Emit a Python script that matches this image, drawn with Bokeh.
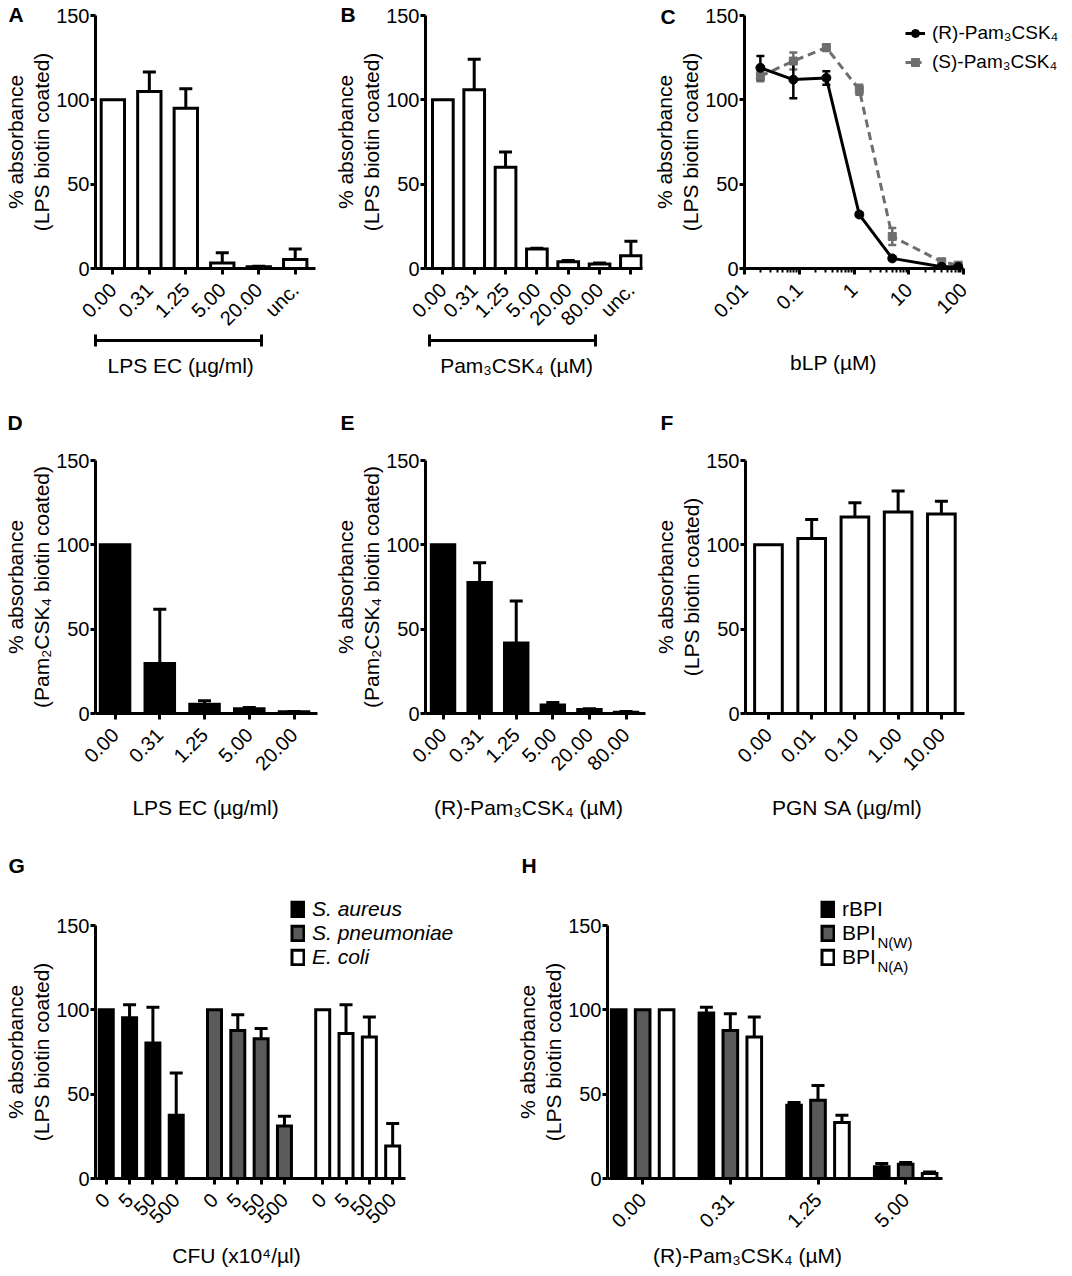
import math
from bokeh.plotting import figure
from bokeh.models import (Range1d, FixedTicker, LinearAxis, Whisker, TeeHead,
                          ColumnDataSource, Label, Legend, LegendItem,
                          CustomJSTickFormatter, GridBox)
from bokeh.layouts import column, row
from bokeh.embed import file_html
from bokeh.resources import INLINE

FONT = "Liberation Sans"
GRAY = "#5a5a5a"
LINE_GRAY = "#6e6e6e"

# ---------------- data ----------------
a_doses = ["0.00", "0.31", "1.25", "5.00", "20.00", "unc."]
a_mean = [100, 105, 95, 3.3, 1.0, 5.3]
a_sem = [0, 11.5, 11.5, 6.0, 0.4, 6.3]

b_doses = ["0.00", "0.31", "1.25", "5.00", "20.00", "80.00", "unc."]
b_mean = [100, 106, 60, 11.5, 4.0, 2.6, 7.5]
b_sem = [0, 18, 9, 0.5, 0.8, 0.6, 8.7]

c_conc = [0.0195, 0.078, 0.3125, 1.25, 5.0, 40.0, 80.0]
c_r_mean = [119, 112, 113, 32, 6, 1, 1]
c_r_sem = [7, 11, 4, 1, 1, 0.5, 0.5]
c_s_mean = [114, 123, 131, 106, 19, 4, 2]
c_s_sem = [3, 5, 2, 3, 5, 1, 1]
c_ticks = [0.01, 0.1, 1, 10, 100]
c_series = ["(R)-Pam\u2083CSK\u2084", "(S)-Pam\u2083CSK\u2084"]

d_doses = ["0.00", "0.31", "1.25", "5.00", "20.00"]
d_mean = [100, 29.6, 5.5, 2.8, 1.0]
d_sem = [0, 32.2, 2.0, 0.7, 0.2]

e_doses = ["0.00", "0.31", "1.25", "5.00", "20.00", "80.00"]
e_mean = [100, 77.6, 41.8, 5.0, 2.4, 0.8]
e_sem = [0, 11.8, 24.9, 1.5, 0.4, 0.4]

f_doses = ["0.00", "0.01", "0.10", "1.00", "10.00"]
f_mean = [100, 103.7, 116.5, 119.5, 118.3]
f_sem = [0, 11.3, 8.5, 12.4, 7.5]

g_cfu = ["0", "5", "50", "500"]
g_species = ["S. aureus", "S. pneumoniae", "E. coli"]
g_aureus = [100, 95.3, 80.3, 37.5]
g_aureus_sem = [0, 7.7, 21.3, 25.1]
g_pneumo = [100, 87.8, 82.9, 31.2]
g_pneumo_sem = [0, 9.3, 6.1, 5.7]
g_coli = [100, 85.9, 83.9, 19.3]
g_coli_sem = [0, 17.1, 11.8, 13.3]

h_doses = ["0.00", "0.31", "1.25", "5.00"]
h_series = ["rBPI", "BPI", "BPI"]
h_subs = ["", "N(W)", "N(A)"]
h_rbpi = [100, 98.1, 43.4, 6.9]
h_rbpi_sem = [0, 3.5, 1.6, 2.0]
h_bpiw = [100, 87.8, 46.4, 8.5]
h_bpiw_sem = [0, 9.9, 8.7, 1.0]
h_bpia = [100, 83.9, 33.2, 3.0]
h_bpia_sem = [0, 11.8, 4.3, 0.9]

Y_LABEL_LPS = "% absorbance\n(LPS biotin coated)"
Y_LABEL_PAM = "% absorbance\n(Pam\u2082CSK\u2084 biotin coated)"

X_TITLES = {
    "A": "LPS  EC  (\u00b5g/ml)",
    "B": "Pam\u2083CSK\u2084  (\u00b5M)",
    "C": "bLP (\u00b5M)",
    "D": "LPS  EC (\u00b5g/ml)",
    "E": "(R)-Pam\u2083CSK\u2084 (\u00b5M)",
    "F": "PGN SA (\u00b5g/ml)",
    "G": "CFU (x10\u2074/\u00b5l)",
    "H": "(R)-Pam\u2083CSK\u2084 (\u00b5M)",
}


# ---------------- helpers ----------------
def style_axis(ax):
    ax.axis_line_width = 3
    ax.axis_line_color = "black"
    ax.major_tick_line_width = 3
    ax.major_tick_line_color = "black"
    ax.major_tick_in = 0
    ax.major_tick_out = 6
    ax.minor_tick_line_color = None
    ax.major_label_text_font = FONT
    ax.major_label_text_font_size = "20px"
    ax.major_label_text_color = "black"
    ax.axis_label_text_font = FONT
    ax.axis_label_text_font_size = "21px"
    ax.axis_label_text_font_style = "normal"
    ax.axis_label_text_color = "black"


def make_fig(width, height, left, right, top, bottom, x_range, ylabel,
             x_axis_type="linear"):
    p = figure(width=width, height=height, x_range=x_range,
               y_range=Range1d(0, 150), x_axis_type=x_axis_type,
               output_backend="svg", toolbar_location=None,
               min_border_left=left, min_border_right=right,
               min_border_top=top, min_border_bottom=bottom)
    p.grid.visible = False
    p.outline_line_color = None
    p.background_fill_color = "white"
    p.border_fill_color = "white"
    for ax in p.axis:
        style_axis(ax)
    y = p.yaxis[0]
    y.ticker = FixedTicker(ticks=[0, 50, 100, 150])
    y.major_tick_out = 5
    y.major_label_standoff = 1
    y.axis_label = ylabel
    y.axis_label_standoff = 0
    y.axis_label_text_line_height = 1.15
    x = p.xaxis[0]
    x.major_label_standoff = 12
    return p


def set_cat_ticks(p, xs, labels):
    ax = p.xaxis[0]
    ax.ticker = FixedTicker(ticks=xs)
    ax.major_label_overrides = {x: l for x, l in zip(xs, labels)}
    ax.major_label_orientation = math.pi / 4


def add_err(p, xs, means, errs, head=13, lw=3, color="black", both=False):
    keep = [i for i, e in enumerate(errs) if e > 0]
    src = ColumnDataSource(dict(
        x=[xs[i] for i in keep],
        lo=[means[i] - (errs[i] if both else 0) for i in keep],
        hi=[means[i] + errs[i] for i in keep]))
    w = Whisker(source=src, base="x", lower="lo", upper="hi",
                dimension="height", line_width=lw, line_color=color,
                upper_head=TeeHead(size=head, line_width=lw, line_color=color),
                lower_head=(TeeHead(size=head, line_width=lw, line_color=color)
                            if both else None))
    p.add_layout(w)


def add_bars(p, xs, means, errs, width, fill):
    src = ColumnDataSource(dict(x=xs, top=means))
    r = p.vbar(x="x", top="top", width=width, source=src, fill_color=fill,
               line_color="black", line_width=3, line_join="miter")
    add_err(p, xs, means, errs)
    return r


def add_bracket(p, lo, hi):
    ax2 = LinearAxis(bounds=(lo, hi), ticker=FixedTicker(ticks=[lo, hi]),
                     formatter=CustomJSTickFormatter(code="return ''"))
    style_axis(ax2)
    ax2.major_tick_in = 6
    ax2.major_tick_out = 6
    ax2.major_label_text_font_size = "1px"
    ax2.major_label_standoff = 0
    p.add_layout(ax2, "below")


# ---------------- Row 1 ----------------
pA = make_fig(330, 408, 87, 15, 15, 140, Range1d(-0.476, 5.556), Y_LABEL_LPS)
xa = list(range(len(a_doses)))
add_bars(pA, xa, a_mean, a_sem, 0.64, "white")
set_cat_ticks(pA, xa, a_doses)
add_bracket(pA, -0.476, 4.07)

pB = make_fig(319, 408, 87, 7, 15, 140, Range1d(-0.554, 6.37), Y_LABEL_LPS)
xb = list(range(len(b_doses)))
add_bars(pB, xb, b_mean, b_sem, 0.66, "white")
set_cat_ticks(pB, xb, b_doses)
add_bracket(pB, -0.43, 4.86)

pC = make_fig(407, 408, 87, 93, 15, 140, Range1d(0.01, 100), Y_LABEL_LPS,
              x_axis_type="log")
minor = [m * d for d in (0.01, 0.1, 1, 10) for m in range(2, 10)]
cx = pC.xaxis[0]
cx.ticker = FixedTicker(ticks=c_ticks, minor_ticks=minor)
cx.formatter = CustomJSTickFormatter(code="return tick.toString()")
cx.major_label_orientation = math.pi / 4
cx.minor_tick_line_color = "black"
cx.minor_tick_line_width = 2
cx.minor_tick_out = 4
cx.minor_tick_in = 0
add_err(pC, c_conc, c_s_mean, c_s_sem, head=8, lw=2.5, color=LINE_GRAY, both=True)
add_err(pC, c_conc, c_r_mean, c_r_sem, head=8, lw=2.5, color="black", both=True)
pC.line(c_conc, c_s_mean, line_color=LINE_GRAY, line_width=3, line_dash="8 5")
pC.scatter(c_conc, c_s_mean, marker="square", size=8, color=LINE_GRAY)
pC.line(c_conc, c_r_mean, line_color="black", line_width=3)
pC.scatter(c_conc, c_r_mean, marker="circle", size=9, color="black")

# ---------------- Row 2 ----------------
pD = make_fig(330, 450, 90, 13, 52, 145, Range1d(-0.437, 4.525), Y_LABEL_PAM)
xd = list(range(len(d_doses)))
add_bars(pD, xd, d_mean, d_sem, 0.66, "black")
set_cat_ticks(pD, xd, d_doses)

pE = make_fig(320, 450, 89, 5, 52, 145, Range1d(-0.479, 5.532), Y_LABEL_PAM)
xe = list(range(len(e_doses)))
add_bars(pE, xe, e_mean, e_sem, 0.64, "black")
set_cat_ticks(pE, xe, e_doses)

pF = make_fig(406, 450, 85, 92, 52, 145, Range1d(-0.531, 4.535), Y_LABEL_LPS)
xf = list(range(len(f_doses)))
add_bars(pF, xf, f_mean, f_sem, 0.64, "white")
set_cat_ticks(pF, xf, f_doses)

# ---------------- Row 3 ----------------
pG = make_fig(512, 410, 88, 107, 67, 90, Range1d(-0.461, 12.83), Y_LABEL_LPS)
g_means = [g_aureus, g_pneumo, g_coli]
g_sems = [g_aureus_sem, g_pneumo_sem, g_coli_sem]
g_fills = ["black", GRAY, "white"]
g_x_all, g_lab_all = [], []
for k in range(len(g_species)):
    xs = [k * 4.64 + i for i in range(len(g_cfu))]
    add_bars(pG, xs, g_means[k], g_sems[k], 0.6, g_fills[k])
    g_x_all += xs
    g_lab_all += g_cfu
set_cat_ticks(pG, g_x_all, g_lab_all)

pH = make_fig(544, 410, 87, 114, 67, 90, Range1d(-0.401, 3.42), Y_LABEL_LPS)
h_means = [h_rbpi, h_bpiw, h_bpia]
h_sems = [h_rbpi_sem, h_bpiw_sem, h_bpia_sem]
h_fills = ["black", GRAY, "white"]
for k in range(len(h_series)):
    xs = [i + (k - 1) * 0.273 for i in range(len(h_doses))]
    add_bars(pH, xs, h_means[k], h_sems[k], 0.167, h_fills[k])
xh = list(range(len(h_doses)))
set_cat_ticks(pH, xh, h_doses)

main = column(row(pA, pB, pC), row(pD, pE, pF), row(pG, pH))

# ------------- transparent overlay for panel letters, titles, legends -------------
ov = figure(width=1064, height=1268, x_range=Range1d(0, 1064),
            y_range=Range1d(1268, 0), output_backend="svg",
            toolbar_location=None, x_axis_location=None,
            y_axis_location=None, min_border=0)
ov.grid.visible = False
ov.outline_line_color = None
ov.background_fill_color = None
ov.border_fill_color = None


def text(x, y, s, size="21px", style="normal", align="center",
         baseline="middle"):
    ov.add_layout(Label(x=x, y=y, text=s, text_font=FONT, text_font_size=size,
                        text_font_style=style, text_align=align,
                        text_baseline=baseline, text_color="black"))


letters = {"A": (8, 2), "B": (340, 2), "C": (660, 4), "D": (7, 410),
           "E": (340, 410), "F": (660, 410), "G": (8, 853), "H": (521, 853)}
for k, (lx, ly) in letters.items():
    text(lx, ly, k, style="bold", align="left", baseline="top")

title_pos = {"A": (186, 365), "B": (519, 365), "C": (833, 362),
             "D": (208, 807), "E": (528, 807), "F": (847, 807),
             "G": (236, 1255), "H": (747, 1255)}
for k, (tx, ty) in title_pos.items():
    text(tx, ty, X_TITLES[k])


def proxy_legend(items, loc, font_style="normal", size="21px", spacing=0,
                 gw=15, gh=18, lh=20):
    return Legend(items=items, location=loc, padding=0, spacing=spacing,
                  margin=0, glyph_width=gw, glyph_height=gh,
                  label_standoff=7, label_height=lh,
                  label_text_font=FONT, label_text_font_size=size,
                  label_text_font_style=font_style, label_text_color="black",
                  inactive_fill_alpha=0, border_line_color=None,
                  background_fill_alpha=0)


# legend C: hidden proxy renderers carry the styles of the two curves
r_l = ov.line(x=[0, 1], y=[0, 0], line_color="black", line_width=3, visible=False)
r_m = ov.scatter(x=[0], y=[0], marker="circle", size=9, color="black", visible=False)
s_l = ov.line(x=[0, 1], y=[0, 0], line_color=LINE_GRAY, line_width=3,
              line_dash="6 4", visible=False)
s_m = ov.scatter(x=[0], y=[0], marker="square", size=8, color=LINE_GRAY,
                 visible=False)
ov.add_layout(proxy_legend([
    LegendItem(label=c_series[0], renderers=[r_l, r_m]),
    LegendItem(label=c_series[1], renderers=[s_l, s_m])],
    (905, 1194), size="19px", spacing=5, gw=20, gh=24, lh=24))

# legend G
g_items = []
for k in range(len(g_species)):
    r = ov.vbar(x=[0], top=[0], width=1, fill_color=g_fills[k],
                line_color="black", line_width=3, line_join="miter",
                visible=False)
    g_items.append(LegendItem(label=g_species[k], renderers=[r]))
ov.add_layout(proxy_legend(g_items, (290, 299), font_style="italic"))

# legend H
h_items = []
for k in range(len(h_series)):
    r = ov.vbar(x=[0], top=[0], width=1, fill_color=h_fills[k],
                line_color="black", line_width=3, line_join="miter",
                visible=False)
    h_items.append(LegendItem(label=h_series[k], renderers=[r]))
ov.add_layout(proxy_legend(h_items, (820, 299)))
sub_y = [0, 942, 966]
for k, sub in enumerate(h_subs):
    if sub:
        text(877, sub_y[k], sub, size="15px", align="left",
             baseline="alphabetic")

root = GridBox(children=[(main, 0, 0), (ov, 0, 0)])
html = file_html(root, INLINE, title="Figure")
open("out.html", "w").write(html)
